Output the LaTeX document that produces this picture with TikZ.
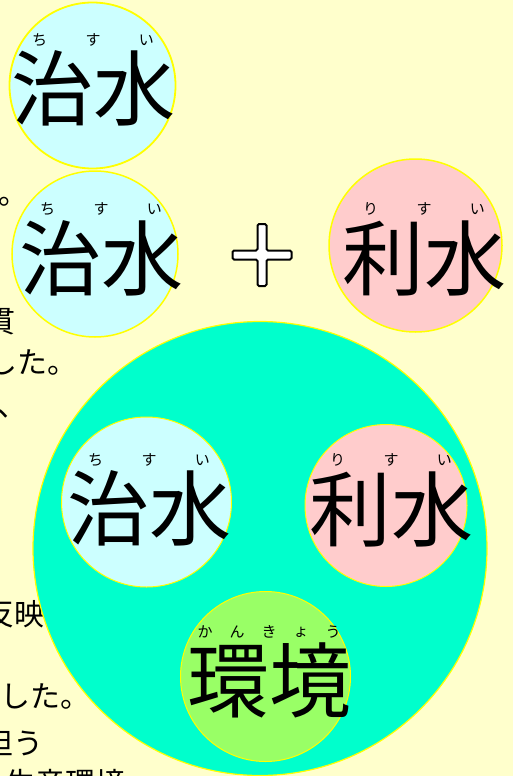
\documentclass[tikz,border=0pt]{standalone}
\usepackage{fontspec}
\newfontfamily\jp{Noto Sans CJK JP}
\definecolor{bgc}{HTML}{FFFFCC}
\definecolor{chisui}{HTML}{CCFFFF}
\definecolor{risui}{HTML}{FFCCCC}
\definecolor{kankyo}{HTML}{99FF66}
\definecolor{bigc}{HTML}{00FFCC}
\definecolor{rim}{HTML}{FFFF00}
\tikzset{
  para/.style={inner sep=0pt, anchor=west, font=\jp\fontsize{30}{30}\selectfont},
  ball/.style={circle, draw=rim, inner sep=0pt, line width=1.2pt},
  kanji/.style={inner sep=0pt, anchor=center, font=\jp\fontsize{82}{82}\selectfont},
  ruby/.style={inner sep=0pt, anchor=center, font=\jp\fontsize{15}{15}\selectfont},
  plussign/.style={draw=black, fill=white, line width=2pt, rounded corners=1.5pt}
}
\begin{document}
\begin{tikzpicture}[x=1pt,y=-1pt]
\useasboundingbox (0,0) rectangle (513,776);
\clip (0,0) rectangle (513,776);
\fill[bgc] (0,0) rectangle (513,776);
% paragraph fragments behind the circles
\node[para] (t1) at (-2,202) {。};
\node[para] (t2) at (-15,322) {貫};
\node[para] (t3) at (-13,362.5) {した。};
\node[para] (t4) at (-3,413.5) {、};
\node[para] (t5) at (-16,614) {反映};
\node[para] (t6) at (0,696.5) {した。};
\node[para] (t7) at (-17,743) {担う};
\node[para] (t8) at (5,783) {生産環境};
% top circle
\node[ball, fill=chisui, line width=1.8pt, minimum size=166pt] (c1) at (92.5,85.5) {};
\node[kanji] (k1) at (93,88.5) {治水};
\node[ruby] (r1a) at (39.7,40) {ち};
\node[ruby] (r1b) at (93,40) {す};
\node[ruby] (r1c) at (146.3,40) {い};
% second row
\node[ball, fill=chisui, line width=1.5pt, minimum size=166pt] (c2) at (95,254) {};
\node[kanji] (k2) at (101,258.5) {治水};
\node[ruby] (r2a) at (47.7,209) {ち};
\node[ruby] (r2b) at (101,209) {す};
\node[ruby] (r2c) at (154.3,209) {い};
\node[ball, fill=risui, line width=1.5pt, minimum size=173pt] (c3) at (415.5,245.5) {};
\node[kanji] (k3) at (424,258.5) {利水};
\node[ruby] (r3a) at (370.7,209) {り};
\node[ruby] (r3b) at (424,209) {す};
\node[ruby] (r3c) at (477.3,209) {い};
\coordinate (pc) at (262,255);
\draw[plussign] ([shift={(-4.5,-31)}]pc) -- ([shift={(4.5,-31)}]pc) -- ([shift={(4.5,-4.5)}]pc)
  -- ([shift={(29.5,-4.5)}]pc) -- ([shift={(29.5,4.5)}]pc) -- ([shift={(4.5,4.5)}]pc)
  -- ([shift={(4.5,31)}]pc) -- ([shift={(-4.5,31)}]pc) -- ([shift={(-4.5,4.5)}]pc)
  -- ([shift={(-29.5,4.5)}]pc) -- ([shift={(-29.5,-4.5)}]pc) -- ([shift={(-4.5,-4.5)}]pc) -- cycle;
% big circle
\node[ball, fill=bigc, minimum size=454pt] (big) at (260,548.5) {};
\node[ball, fill=chisui, line width=1pt, minimum size=170pt] (c4) at (146.5,502) {};
\node[kanji] (k4) at (149,508) {治水};
\node[ruby] (r4a) at (95.7,460) {ち};
\node[ruby] (r4b) at (149,460) {す};
\node[ruby] (r4c) at (202.3,460) {い};
\node[ball, fill=risui, line width=1pt, minimum size=162pt] (c5) at (386,505.5) {};
\node[kanji] (k5) at (391,509) {利水};
\node[ruby] (r5a) at (337.7,460) {り};
\node[ruby] (r5b) at (391,460) {す};
\node[ruby] (r5c) at (444.3,460) {い};
\node[ball, fill=kankyo, line width=1pt, minimum size=170pt] (c6) at (265.5,676.5) {};
\node[kanji] (k6) at (269,680) {環境};
\node[ruby] (r6a) at (205,632) {か};
\node[ruby] (r6b) at (237,632) {ん};
\node[ruby] (r6c) at (269,632) {き};
\node[ruby] (r6d) at (301,632) {ょ};
\node[ruby] (r6e) at (333,632) {う};
\end{tikzpicture}
\end{document}
